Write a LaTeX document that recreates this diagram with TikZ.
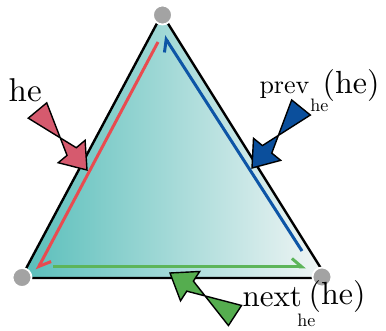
\documentclass[tikz,border=0pt]{standalone}
\usetikzlibrary{arrows.meta, calc}
\definecolor{heRed}{HTML}{E94B50}
\definecolor{heBlue}{HTML}{0D55A6}
\definecolor{heGreen}{HTML}{5DB55A}
\definecolor{arRed}{HTML}{D65A6E}
\definecolor{arBlue}{HTML}{0B4F9C}
\definecolor{arGreen}{HTML}{55AD4F}
\definecolor{faceLeft}{HTML}{58BEBA}
\definecolor{faceRight}{HTML}{F3F6F6}
\definecolor{vertGrey}{HTML}{A3A3A3}
\tikzset{
  faceline/.style = {line width=2.4pt, black, line join=miter},
  halfedge/.style = {line width=3pt, -{Straight Barb[left, length=10pt, width=17pt]}},
  vertdot/.style  = {circle, fill=vertGrey, draw=white, line width=1.8pt,
                     minimum size=19pt, inner sep=0pt},
  pointer/.style  = {draw=black, line width=1.4pt, line join=miter},
  txt/.style      = {font=\fontsize{10}{12}\selectfont, scale=#1, transform shape,
                     inner sep=0pt, anchor=base west},
}
% fat arrow from tail to tip: #1 colour, #2 tail, #3 tip
\newcommand{\pointer}[3]{%
  \coordinate (hb) at ($(#3)!24pt!(#2)$);
  \draw[pointer, fill=#1] (#3)
    -- ($(hb)!17.5pt!90:(#3)$) -- ($(hb)!6pt!90:(#3)$)
    -- ($(#2)!12pt!-90:(#3)$) -- ($(#2)!12pt!90:(#3)$)
    -- ($(hb)!6pt!-90:(#3)$) -- ($(hb)!17.5pt!-90:(#3)$) -- cycle;
}

\begin{document}
\begin{tikzpicture}[x=1pt, y=-1pt]
  \useasboundingbox (0,0) rectangle (386,331);
  % face
  \coordinate (T) at (162,14);
  \coordinate (L) at (21,278);
  \coordinate (R) at (327,278);
  \shade[left color=faceLeft, right color=faceRight] (T) -- (L) -- (R) -- cycle;
  \draw[faceline] (T) -- (L) -- (R) -- cycle;
  % half-edges
  \coordinate (he0) at (158,42);   \coordinate (he1) at (37,270);
  \coordinate (pv0) at (302,251);  \coordinate (pv1) at (164,36);
  \coordinate (nx0) at (53,267);   \coordinate (nx1) at (306,267);
  \draw[halfedge, heRed] (he0) -- (he1);
  \draw[halfedge, heBlue] (pv0) -- (pv1);
  \draw[halfedge, heGreen] (nx0) -- (nx1);
  % vertices
  \node[vertdot] (vT) at (162.5,15) {};
  \node[vertdot] (vL) at (22,277.5) {};
  \node[vertdot] (vR) at (322,277) {};
  % pointers
  \coordinate (heTail) at (37.5,110.5);  \coordinate (heTip) at (87,170);
  \coordinate (pvTail) at (301,107.5);   \coordinate (pvTip) at (252,168);
  \coordinate (nxTail) at (235,315.5);   \coordinate (nxTip) at (170,273);
  \pointer{arRed}{heTail}{heTip}
  \pointer{arBlue}{pvTail}{pvTip}
  \pointer{arGreen}{nxTail}{nxTip}
  % labels
  \node[txt=3.3] (helbl) at (8,102) {he};
  \node[txt=2.6] (prevlbl) at (259,94) {prev};
  \node[txt=1.8] (prevsub) at (310,112) {he};
  \node[txt=3.2] (prevarg) at (322,94) {(he)};
  \node[txt=3.1] (nextlbl) at (242,307) {next};
  \node[txt=1.8] (nextsub) at (297,327) {he};
  \node[txt=3.2] (nextarg) at (308,305) {(he)};
\end{tikzpicture}
\end{document}
